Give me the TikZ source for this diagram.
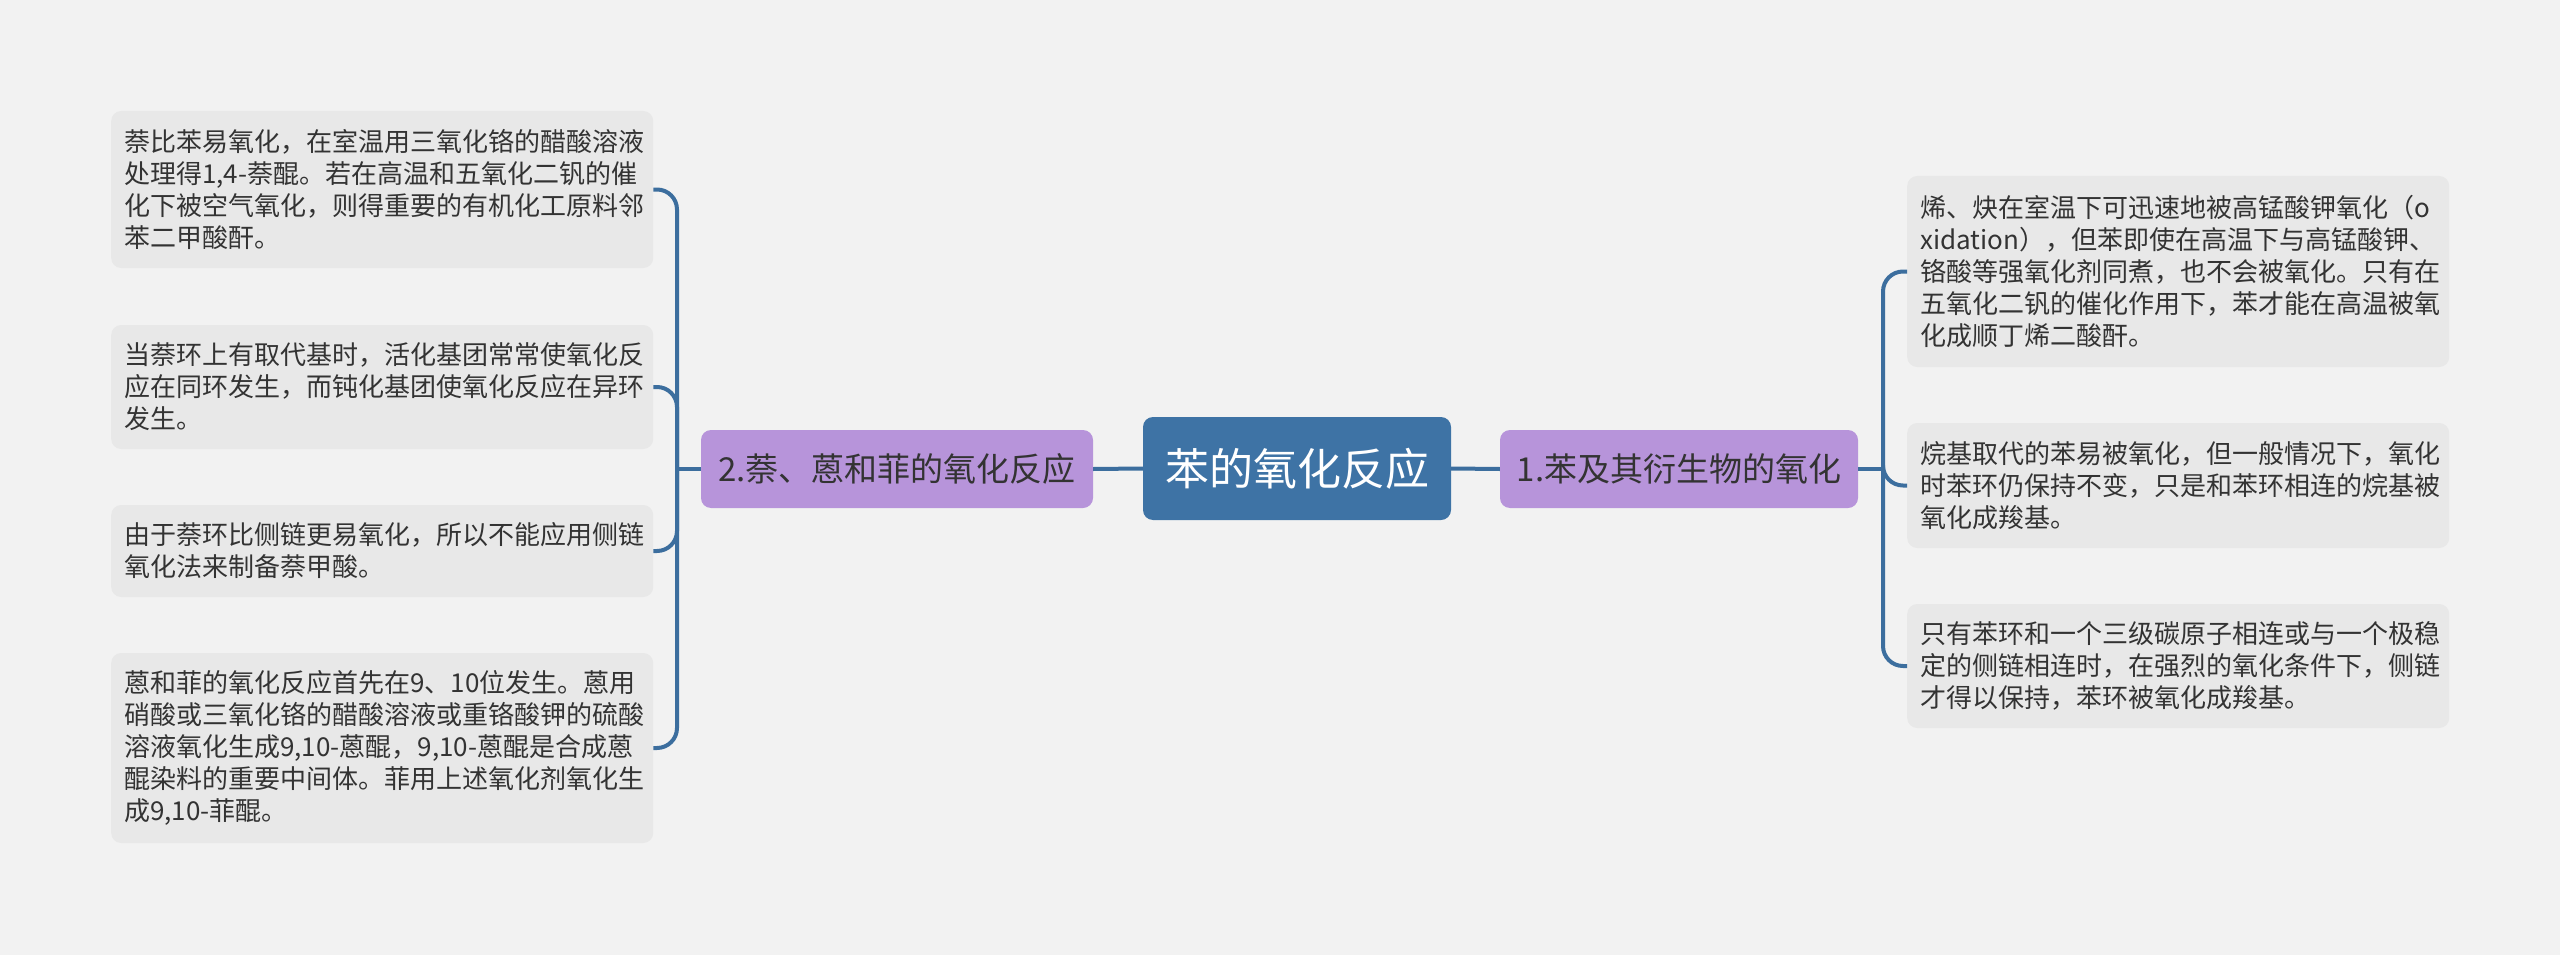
\documentclass[tikz,border=0pt]{standalone}
\usepackage{fontspec}
\setmainfont{Noto Sans CJK SC}
\definecolor{bgc}{HTML}{F2F2F2}
\definecolor{leafc}{HTML}{E8E8E8}
\definecolor{txtc}{HTML}{333333}
\definecolor{centerc}{HTML}{3E73A5}
\definecolor{branchc}{HTML}{B794DA}
\definecolor{linec}{HTML}{3C6E9E}
\begin{document}
\begin{tikzpicture}[x=1pt,y=-1pt,
  leafbox/.style={fill=leafc, rounded corners=10pt, text=txtc,
    font=\fontsize{26}{32}\selectfont, align=left, text width=516pt,
    inner xsep=13pt, inner ysep=0pt},
  centerbox/.style={fill=centerc, rounded corners=10pt, text=white,
    font=\fontsize{44}{52}\selectfont, minimum width=308pt, minimum height=103pt, inner sep=0pt},
  branchbox/.style={fill=branchc, rounded corners=10pt, text=txtc,
    font=\fontsize{33}{40}\selectfont, minimum height=78pt, inner sep=0pt},
  conn/.style={draw=linec, line width=4pt},
  bendconn/.style={conn, rounded corners=20pt}
]
\fill[bgc] (0,0) rectangle (2560,955);
\useasboundingbox (0,0) rectangle (2560,955);

\node[centerbox] (c) at (1297,468.5) {苯的氧化反应};
\node[branchbox, minimum width=392pt] (bL) at (897,469) {2.萘、蒽和菲的氧化反应};
\node[branchbox, minimum width=358pt] (bR) at (1679,469) {1.苯及其衍生物的氧化};

\node[leafbox, anchor=west, minimum height=157pt] (l1) at (111,189.5)
  {萘比苯易氧化，在室温用三氧化铬的醋酸溶液\\处理得1,4-萘醌。若在高温和五氧化二钒的催\\化下被空气氧化，则得重要的有机化工原料邻\\苯二甲酸酐。};
\node[leafbox, anchor=west, minimum height=124pt] (l2) at (111,387)
  {当萘环上有取代基时，活化基团常常使氧化反\\应在同环发生，而钝化基团使氧化反应在异环\\发生。};
\node[leafbox, anchor=west, minimum height=92pt] (l3) at (111,551)
  {由于萘环比侧链更易氧化，所以不能应用侧链\\氧化法来制备萘甲酸。};
\node[leafbox, anchor=west, minimum height=190pt] (l4) at (111,748)
  {蒽和菲的氧化反应首先在9、10位发生。蒽用\\硝酸或三氧化铬的醋酸溶液或重铬酸钾的硫酸\\溶液氧化生成9,10-蒽醌，9,10-蒽醌是合成蒽\\醌染料的重要中间体。菲用上述氧化剂氧化生\\成9,10-菲醌。};

\node[leafbox, anchor=west, minimum height=191pt] (r1) at (1907,271.5)
  {烯、炔在室温下可迅速地被高锰酸钾氧化（o\\xidation），但苯即使在高温下与高锰酸钾、\\铬酸等强氧化剂同煮，也不会被氧化。只有在\\五氧化二钒的催化作用下，苯才能在高温被氧\\化成顺丁烯二酸酐。};
\node[leafbox, anchor=west, minimum height=125pt] (r2) at (1907,485.5)
  {烷基取代的苯易被氧化，但一般情况下，氧化\\时苯环仍保持不变，只是和苯环相连的烷基被\\氧化成羧基。};
\node[leafbox, anchor=west, minimum height=124pt] (r3) at (1907,666)
  {只有苯环和一个三级碳原子相连或与一个极稳\\定的侧链相连时，在强烈的氧化条件下，侧链\\才得以保持，苯环被氧化成羧基。};

\coordinate (jL) at (677,469);
\coordinate (jR) at (1883,469);

\draw[conn] (c.west) -- (bL.east);
\draw[conn] (c.east) -- (bR.west);
\draw[conn] (bL.west) -- (jL);
\draw[conn] (bR.east) -- (jR);

\draw[bendconn] (jL) |- (l1.east);
\draw[bendconn] (jL) |- (l2.east);
\draw[bendconn] (jL) |- (l3.east);
\draw[bendconn] (jL) |- (l4.east);
\draw[bendconn] (jR) |- (r1.west);
\draw[bendconn] (jR) |- (r2.west);
\draw[bendconn] (jR) |- (r3.west);
\end{tikzpicture}
\end{document}
